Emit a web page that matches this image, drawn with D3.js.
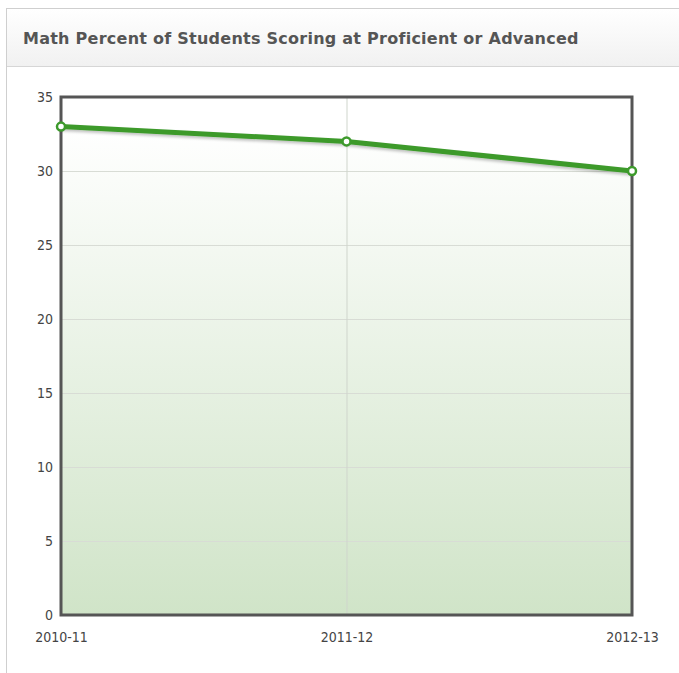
<!DOCTYPE html>
<html>
<head>
<meta charset="utf-8">
<script src="https://cdn.jsdelivr.net/npm/d3@7"></script>
<style>
body { margin: 0; background: #fff; }
svg { display: block; }
</style>
</head>
<body>
<svg id="chart" width="679" height="673"></svg>
<script>
// data
const years = ["2010-11", "2011-12", "2012-13"];
const percents = [33, 32, 30];
const yTicks = [0, 5, 10, 15, 20, 25, 30, 35];
const title = "Math Percent of Students Scoring at Proficient or Advanced";

const svg = d3.select("#chart");
const margin = { left: 61, right: 47, top: 97, bottom: 58 };
const width = 679, height = 673;
const drawWidth = width - margin.left - margin.right;
const drawHeight = height - margin.top - margin.bottom;
const tickFont = "'DejaVu Sans Condensed', Tahoma, sans-serif";

const defs = svg.append("defs");
const hg = defs.append("linearGradient").attr("id", "hdr").attr("x1", 0).attr("y1", 0).attr("x2", 0).attr("y2", 1);
hg.append("stop").attr("offset", "0%").attr("stop-color", "#ffffff");
hg.append("stop").attr("offset", "100%").attr("stop-color", "#f1f1f1");
const ag = defs.append("linearGradient").attr("id", "area").attr("x1", 0).attr("y1", 0).attr("x2", 0).attr("y2", 1);
ag.append("stop").attr("offset", "0%").attr("stop-color", "#ffffff");
ag.append("stop").attr("offset", "100%").attr("stop-color", "#d0e4c8");
const sh = defs.append("filter").attr("id", "shadow").attr("x", "-10%").attr("y", "-50%").attr("width", "120%").attr("height", "200%");
sh.append("feGaussianBlur").attr("in", "SourceAlpha").attr("stdDeviation", 1.5).attr("result", "b");
sh.append("feOffset").attr("in", "b").attr("dy", 2).attr("result", "o");
sh.append("feComponentTransfer").attr("in", "o").attr("result", "t")
  .append("feFuncA").attr("type", "linear").attr("slope", 0.25);
const mg = sh.append("feMerge");
mg.append("feMergeNode").attr("in", "t");
mg.append("feMergeNode").attr("in", "SourceGraphic");

// panel + header
svg.append("rect").attr("x", 6.5).attr("y", 8.5).attr("width", 700).attr("height", 700)
  .attr("fill", "#fff").attr("stroke", "#cfcfcf");
svg.append("rect").attr("x", 7).attr("y", 9).attr("width", 700).attr("height", 57).attr("fill", "url(#hdr)");
svg.append("line").attr("x1", 7).attr("x2", 679).attr("y1", 66.5).attr("y2", 66.5).attr("stroke", "#d6d6d6");
svg.append("text").attr("x", 23).attr("y", 44)
  .style("font-family", "'DejaVu Sans', Verdana, sans-serif")
  .style("font-weight", "bold").style("font-size", "16px").style("letter-spacing", "0.25px")
  .attr("fill", "#555")
  .text(title);

const xScale = d3.scalePoint().domain(years).range([0, drawWidth]);
const yScale = d3.scaleLinear().domain([0, 35]).range([drawHeight, 0]);

const g = svg.append("g").attr("transform", `translate(${margin.left},${margin.top})`);

// area
const area = d3.area().x((d, i) => xScale(years[i])).y0(drawHeight).y1(d => yScale(d));
g.append("path").datum(percents).attr("d", area).attr("fill", "url(#area)");

// grid
g.append("g").call(d3.axisLeft(yScale).tickValues(yTicks).tickSize(-drawWidth).tickFormat(""))
  .call(s => s.select(".domain").remove())
  .call(s => s.selectAll("line").attr("stroke", "#d8dcd5"));
g.append("g").attr("transform", `translate(0,${drawHeight})`)
  .call(d3.axisBottom(xScale).tickSize(-drawHeight).tickFormat(""))
  .call(s => s.select(".domain").remove())
  .call(s => s.selectAll("line").attr("stroke", "#cfd5cc"));

// frame
g.append("rect").attr("width", drawWidth).attr("height", drawHeight)
  .attr("fill", "none").attr("stroke", "#555").attr("stroke-width", 3);

// axis labels
const yAxis = g.append("g").call(d3.axisLeft(yScale).tickValues(yTicks).tickSize(0).tickPadding(8));
yAxis.select(".domain").remove();
yAxis.selectAll("text").style("font-family", tickFont).style("font-size", "14px").attr("fill", "#444");
const xAxis = g.append("g").attr("transform", `translate(0,${drawHeight})`)
  .call(d3.axisBottom(xScale).tickSize(0).tickPadding(17));
xAxis.select(".domain").remove();
xAxis.selectAll("text").style("font-family", tickFont).style("font-size", "14px").attr("fill", "#444");

// line + points
const line = d3.line().x((d, i) => xScale(years[i])).y(d => yScale(d));
g.append("path").datum(percents).attr("d", line).attr("fill", "none")
  .attr("stroke", "#3d9a2c").attr("stroke-width", 5).attr("stroke-linejoin", "round")
  .attr("filter", "url(#shadow)");
g.selectAll("circle").data(percents).enter().append("circle")
  .attr("cx", (d, i) => xScale(years[i])).attr("cy", d => yScale(d)).attr("r", 4)
  .attr("fill", "#fff").attr("stroke", "#3d9a2c").attr("stroke-width", 2.5);
</script>
</body>
</html>
